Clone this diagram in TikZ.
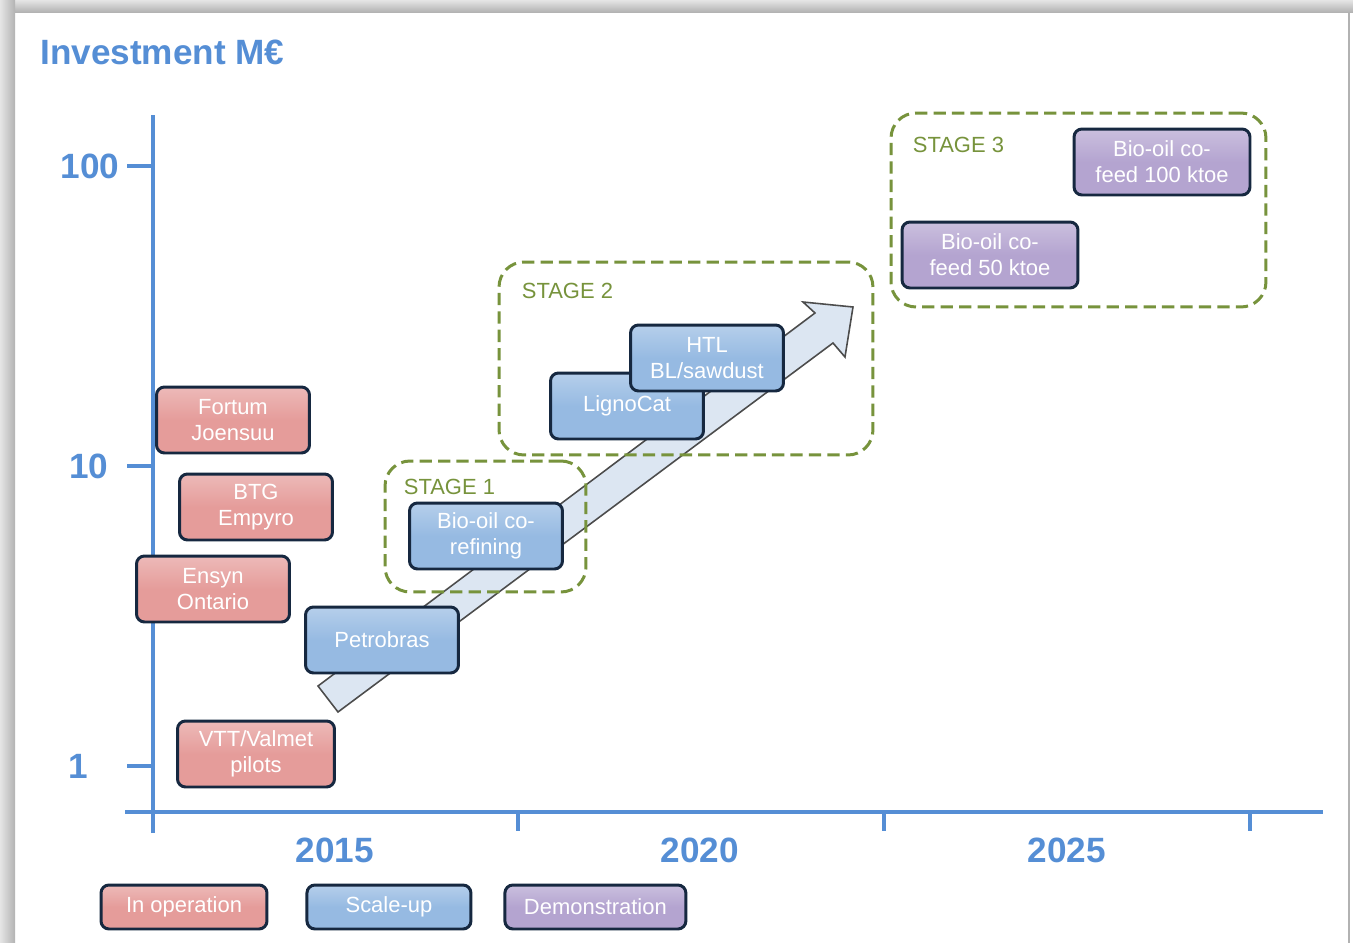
\documentclass[tikz,border=0pt]{standalone}
\usepackage{fontspec}
\setmainfont{Liberation Sans}
\usetikzlibrary{positioning, calc}
\definecolor{axisblue}{RGB}{85,142,213}
\definecolor{opred}{RGB}{229,156,154}
\definecolor{scaleblue}{RGB}{150,186,226}
\definecolor{demopurple}{RGB}{180,164,208}
\definecolor{boxnavy}{RGB}{22,40,64}
\definecolor{stagegreen}{RGB}{119,147,60}
\definecolor{arrowfill}{RGB}{220,230,242}
\tikzset{base-axis/.style = {line width=2pt, draw=axisblue}}
\tikzset{axlabel/.style = {text=axisblue, font=\bfseries\fontsize{20}{24}\selectfont, inner sep=0pt}}
\tikzset{proj/.style = {
  rectangle,
  draw=boxnavy, line width=1.7pt, rounded corners=1.6mm,
  text=white, text centered, align=center,
  font=\fontsize{12.5}{14.8}\selectfont,
  minimum width=3.06cm, minimum height=1.32cm, inner sep=1pt
  }}
\tikzset{oper/.style = {proj, top color=opred!70!white, bottom color=opred, middle color=opred}}
\tikzset{scaleup/.style = {proj, top color=scaleblue!70!white, bottom color=scaleblue, middle color=scaleblue}}
\tikzset{demo/.style = {proj, top color=demopurple!70!white, bottom color=demopurple, middle color=demopurple, minimum width=3.52cm}}
\tikzset{legbox/.style = {minimum height=0.88cm}}
\tikzset{stage/.style = {
  rectangle, draw=stagegreen, line width=1.7pt,
  dash pattern=on 7pt off 3.5pt, rounded corners=5mm
  }}
\tikzset{stagetext/.style = {text=stagegreen, font=\fontsize{12.5}{14}\selectfont, inner sep=0pt}}
\tikzset{bigarrow/.style = {fill=arrowfill, draw=black!70, line width=0.9pt, line join=miter}}

\begin{document}
\begin{tikzpicture}[x=0.02cm, y=-0.02cm]

\useasboundingbox (0,0) rectangle (1353,943);

	% Frame
    \fill[white] (0,0) rectangle (1353,943);
    \shade[top color=gray!20, bottom color=gray!60] (0,0) rectangle (1353,12);
    \shade[left color=gray!20, right color=gray!60] (0,0) rectangle (15,943);
    \draw[gray!60, line width=0.8pt] (1349,12) -- (1349,943);
    \node (title) [text=axisblue, font=\bfseries\fontsize{20}{24}\selectfont, anchor=west, inner sep=0pt] at (40,52) {Investment M€};

	% Coordinate system
    \coordinate (O) at (153,812);
    \coordinate (ytop) at (153,115);
    \coordinate (ybot) at (153,833);
    \coordinate (xleft) at (125,812);
    \coordinate (xright) at (1323,812);
    \draw [base-axis] (ybot) -- (ytop);
    \draw [base-axis] (xleft) -- (xright);
    \foreach \px in {518,884,1250}
    	\draw [base-axis] (\px,812) -- (\px,831);
    \foreach \py in {166,466,766}
    	\draw [base-axis] (127,\py) -- (153,\py);
    \node (v100) [axlabel] at (90,166) {100};
    \node (v10) [axlabel] at (89,466) {10};
    \node (v1) [axlabel] at (78,766) {1};
    \foreach \px/\yr in {335/2015,700/2020,1067/2025}
    	\node (yr\yr) [axlabel] at (\px,850) {\yr};

	% Growth arrow
    \draw [bigarrow] (318,686) -- (815,313) -- (803,302) -- (853,307) -- (845,357) -- (833,343) -- (338,712) -- cycle;

	% Plants
    \node (fortum) [oper] at (233,420) {Fortum\\Joensuu};
    \node (btg) [oper] at (256,507) {BTG\\Empyro};
    \node (ensyn) [oper] at (213,589) {Ensyn\\Ontario};
    \node (vtt) [oper, minimum width=3.14cm] at (256,754) {VTT/Valmet\\pilots};
    \node (petrobras) [scaleup] at (382,640) {Petrobras};
    \node (corefining) [scaleup] at (486,536) {Bio-oil co-\\refining};
    \node (lignocat) [scaleup] at (627,406) {LignoCat};
    \node (htl) [scaleup] at (707,358) {HTL\\BL/sawdust};
    \node (cofeed50) [demo] at (990,255) {Bio-oil co-\\feed 50 ktoe};
    \node (cofeed100) [demo] at (1162,162) {Bio-oil co-\\feed 100 ktoe};

	% Stages
    \node (stage1) [stage, minimum width=4.02cm, minimum height=2.62cm] at (485.5,526.5) {};
    \node (stage2) [stage, minimum width=7.48cm, minimum height=3.86cm] at (686,358.5) {};
    \node (stage3) [stage, minimum width=7.5cm, minimum height=3.88cm] at (1078.5,210) {};
    \node (s1text) [stagetext, below right=0.38cm and 0.4cm of stage1.north west] {STAGE 1};
    \node (s2text) [stagetext, below right=0.44cm and 0.48cm of stage2.north west] {STAGE 2};
    \node (s3text) [stagetext, below right=0.5cm and 0.46cm of stage3.north west] {STAGE 3};

	% Legend
    \node (legop) [oper, legbox, minimum width=3.32cm] at (184,907) {In operation};
    \node (legscale) [scaleup, legbox, minimum width=3.28cm, right=0.74cm of legop] {Scale-up};
    \node (legdemo) [demo, legbox, minimum width=3.62cm, right=0.62cm of legscale] {Demonstration};

\end{tikzpicture}
\end{document}
